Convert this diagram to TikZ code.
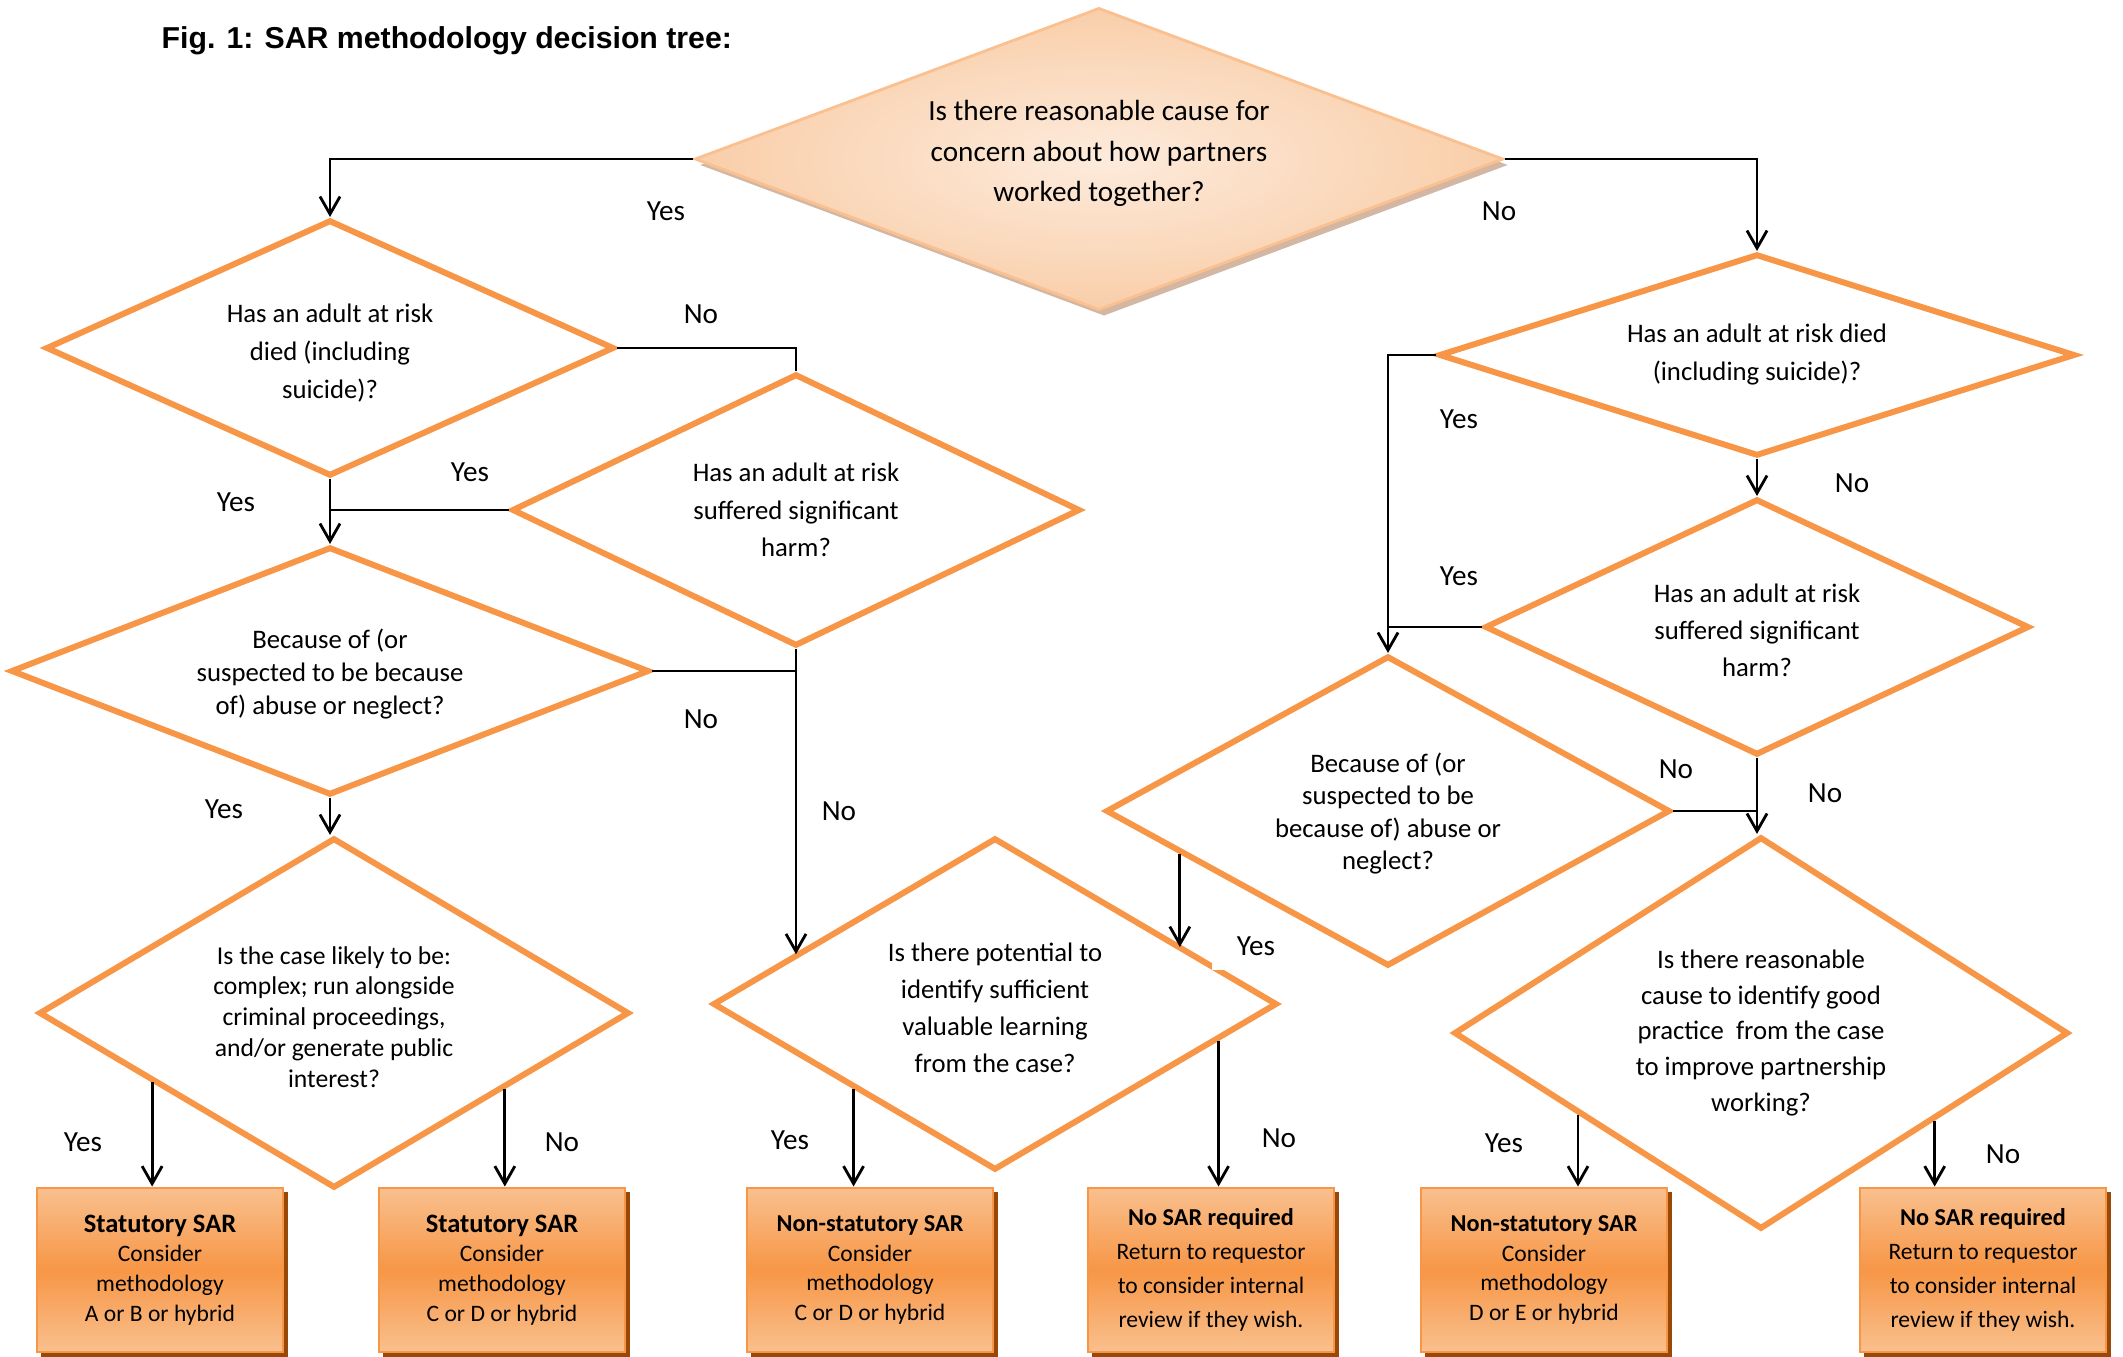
\documentclass[tikz,border=0pt]{standalone}
\usepackage{fontspec}
\setmainfont{Carlito}
\newfontfamily\titlefont{Liberation Sans}
\usetikzlibrary{shapes.geometric,arrows.meta,calc,shadows}
\definecolor{dline}{HTML}{F79646}
\definecolor{boxlight}{HTML}{F9C08E}
\definecolor{boxshadow}{HTML}{984807}
\definecolor{topline}{HTML}{FAC090}
\definecolor{topin}{HTML}{FDEBDC}
\definecolor{topout}{HTML}{F9CEA9}
\definecolor{topshadow}{HTML}{C8A58C}
\newcommand{\bigbold}[1]{{\fontsize{7.55}{8.45}\selectfont\bfseries #1}}
\newcommand{\smallbold}[1]{{\fontsize{6.9}{8.45}\selectfont\bfseries #1}}
\begin{document}
\begin{tikzpicture}[x=0.01cm,y=-0.01cm,
  dia/.style={diamond, draw=dline, line width=1.7pt, inner sep=0pt, align=center, font=\fontsize{7.6}{10.8}\selectfont},
  outbox/.style={rectangle, draw=dline, line width=0.8pt, minimum width=2.46cm, minimum height=1.64cm, inner sep=0pt, align=center,
     top color=boxlight, bottom color=boxlight, middle color=dline,
     drop shadow={shadow xshift=0.045cm, shadow yshift=-0.045cm, fill=boxshadow, opacity=1},
     font=\fontsize{6.7}{8.45}\selectfont},
  nosar/.style={font=\fontsize{6.7}{9.6}\selectfont},
  conn/.style={line width=0.8pt, black},
  arr/.style={conn, -{Straight Barb[length=5pt,width=5.7pt]}},
  lab/.style={font=\fontsize{8.3}{10}\selectfont, inner sep=1pt},
]
\fill[white] (0,0) rectangle (2123,1357);
\useasboundingbox (0,0) rectangle (2123,1357);

\node[anchor=west, inner sep=0pt, font=\titlefont\bfseries\fontsize{8.6}{10}\selectfont] (title) at (161,41) {Fig. 1: SAR methodology decision tree:};

% top decision
\node[dia, draw=topline, line width=0.8pt, shading=radial, inner color=topin, outer color=topout,
  drop shadow={shadow xshift=0.05cm, shadow yshift=-0.06cm, fill=topshadow, opacity=0.8},
  minimum width=8.08cm, minimum height=3.02cm, shape aspect=2.68, font=\fontsize{8.3}{11.5}\selectfont]
  (top) at (1099,159) {Is there reasonable cause for\\concern about how partners\\worked together?\\[-7pt]\mbox{}};

% left branch
\node[dia, minimum width=5.68cm, minimum height=2.56cm, shape aspect=2.22] (d1) at (330,348) {\mbox{}\\[-2.4pt]Has an adult at risk\\died (including\\suicide)?};
\node[dia, minimum width=5.68cm, minimum height=2.72cm, shape aspect=2.09, font=\fontsize{7.6}{10.7}\selectfont] (d2) at (796,510) {Has an adult at risk\\suffered significant\\harm?};
\node[dia, minimum width=6.38cm, minimum height=2.48cm, shape aspect=2.57, font=\fontsize{7.6}{9.4}\selectfont] (d3) at (330,671) {\mbox{}\\[-2.1pt]Because of (or\\suspected to be because\\of) abuse or neglect?};
\node[dia, minimum width=5.90cm, minimum height=3.50cm, shape aspect=1.69, font=\fontsize{7.3}{8.8}\selectfont] (d4) at (334,1013) {\mbox{}\\[-1.4pt]Is the case likely to be:\\complex; run alongside\\criminal proceedings,\\and/or generate public\\interest?};
\node[dia, minimum width=5.64cm, minimum height=3.32cm, shape aspect=1.7, font=\fontsize{7.6}{10.5}\selectfont] (d6) at (995,1004) {\mbox{}\\[-2.9pt]Is there potential to\\identify sufficient\\valuable learning\\from the case?};

% right branch
\node[dia, minimum width=6.36cm, minimum height=2.02cm, shape aspect=3.15] (d5) at (1757,355) {Has an adult at risk died\\(including suicide)?};
\node[dia, minimum width=5.44cm, minimum height=2.56cm, shape aspect=2.12, font=\fontsize{7.6}{10.5}\selectfont] (d7) at (1757,627) {\mbox{}\\[-3.4pt]Has an adult at risk\\suffered significant\\harm?};
\node[dia, minimum width=5.64cm, minimum height=3.10cm, shape aspect=1.82, font=\fontsize{7.6}{9.2}\selectfont] (d8) at (1388,811) {\mbox{}\\[-2.2pt]Because of (or\\suspected to be\\because of) abuse or\\neglect?};
\node[dia, minimum width=6.14cm, minimum height=3.92cm, shape aspect=1.57, font=\fontsize{7.6}{10.2}\selectfont] (d9) at (1761,1033) {Is there reasonable\\cause to identify good\\practice~ from the case\\to improve partnership\\working?};

% outcome boxes
\node[outbox] (b1) at (160,1270) {\bigbold{Statutory SAR}\\Consider\\methodology\\A or B or hybrid};
\node[outbox] (b2) at (502,1270) {\bigbold{Statutory SAR}\\Consider\\methodology\\C or D or hybrid};
\node[outbox] (b3) at (870,1270) {\smallbold{Non-statutory SAR}\\Consider\\methodology\\C or D or hybrid};
\node[outbox, nosar] (b4) at (1211,1270) {\smallbold{No SAR required}\\Return to requestor\\to consider internal\\review if they wish.};
\node[outbox] (b5) at (1544,1270) {\smallbold{Non-statutory SAR}\\Consider\\methodology\\D or E or hybrid};
\node[outbox, nosar] (b6) at (1983,1270) {\smallbold{No SAR required}\\Return to requestor\\to consider internal\\review if they wish.};

% connectors from top
\draw[arr] (top.west) -| (d1.north);
\draw[arr] (top.east) -| (d5.north);

% left branch connectors
\draw[conn] (d1.east) -| (d2.north);
\draw[arr] (d1.south) -- (d3.north);
\draw[conn] (d2.west) -- (d2.west -| d1.south);
\draw[conn] (d3.east) -- (d3.east -| d2.south);
\coordinate (d6a) at ($(d6.west)!0.294!(d6.north)$);
\draw[arr] (d2.south) -- (d2.south |- d6a);
\draw[arr] (d3.south) -- (d3.south |- d4.north);

\coordinate (p1) at ($(d4.west)!0.39!(d4.south)$);
\draw[arr] (p1) -- (p1 |- b1.north);
\coordinate (p2) at ($(d4.east)!0.427!(d4.south)$);
\draw[arr] (p2) -- (p2 |- b2.north);
\coordinate (p3) at ($(d6.west)!0.504!(d6.south)$);
\draw[arr] (p3) -- (p3 |- b3.north);
\coordinate (p4) at ($(d6.east)!0.216!(d6.south)$);
\draw[arr] (p4) -- (p4 |- b4.north);

% right branch connectors
\draw[arr] (d5.west) -| (d8.north);
\draw[arr] (d5.south) -- (d5.south |- d7.north);
\draw[conn] (d7.west) -- (d7.west -| d8.north);
\draw[arr] (d7.south) -- (d7.south |- d9.north);
\draw[conn] (d8.east) -- (d8.east -| d7.south);
\coordinate (q1) at ($(d8.west)!0.27!(d8.south)$);
\coordinate (q2) at ($(d6.north)!0.663!(d6.east)$);
\draw[arr] (q1) -- (q1 |- q2);

\coordinate (p5) at ($(d9.west)!0.41!(d9.south)$);
\draw[arr] (p5) -- (p5 |- b5.north);
\coordinate (p6) at ($(d9.east)!0.44!(d9.south)$);
\draw[arr] (p6) -- (p6 |- b6.north);

% labels
\node[lab] (l1) at (666,211) {Yes};
\node[lab] (l2) at (1499,211) {No};
\node[lab] (l3) at (701,314) {No};
\node[lab] (l4) at (470,472) {Yes};
\node[lab] (l5) at (236,502) {Yes};
\node[lab] (l6) at (701,719) {No};
\node[lab] (l7) at (224,809) {Yes};
\node[lab] (l8) at (839,811) {No};
\node[lab] (l9) at (83,1142) {Yes};
\node[lab] (l10) at (562,1142) {No};
\node[lab] (l11) at (790,1140) {Yes};
\node[lab] (l12) at (1279,1138) {No};
\node[lab] (l13) at (1459,419) {Yes};
\node[lab] (l14) at (1852,483) {No};
\node[lab] (l15) at (1459,576) {Yes};
\node[lab] (l16) at (1676,769) {No};
\node[lab] (l17) at (1825,793) {No};
\node[lab, fill=white, minimum width=0.88cm, minimum height=0.48cm] (l18) at (1256,946) {Yes};
\node[lab] (l19) at (1504,1143) {Yes};
\node[lab] (l20) at (2003,1154) {No};
\end{tikzpicture}
\end{document}
